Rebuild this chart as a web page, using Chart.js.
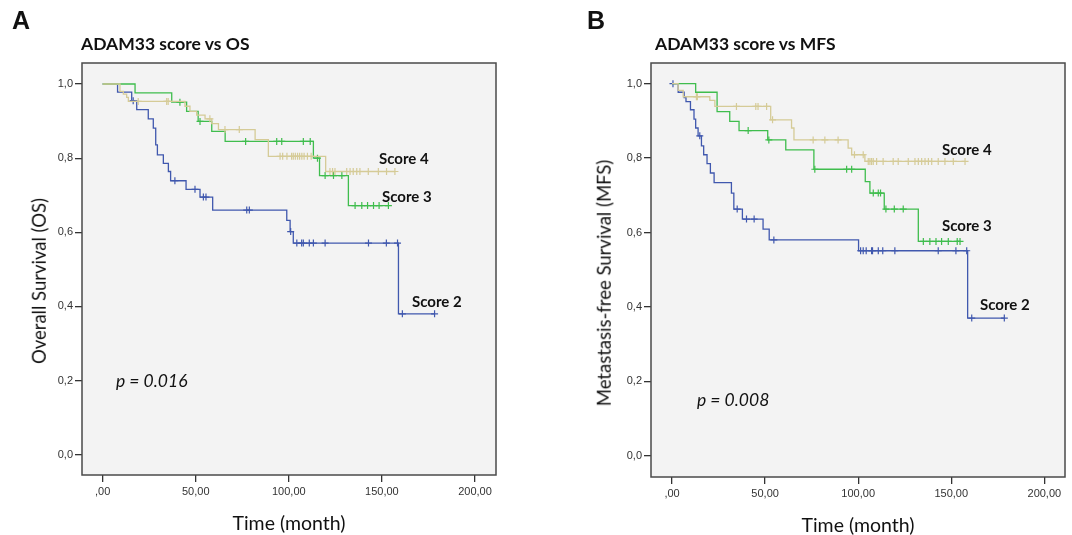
<!DOCTYPE html>
<html>
<head>
<meta charset="utf-8">
<script src="https://cdn.jsdelivr.net/npm/chart.js@4.4.1/dist/chart.umd.min.js"></script>
<style>
  body { margin: 0; background: #fff; width: 1072px; height: 535px; position: relative; overflow: hidden; }
  canvas { position: absolute; top: 0; }
  .t { position: absolute; white-space: nowrap; color: #111; line-height: 1; font-family: Lato, sans-serif; }
  .letter { font-family: "Liberation Sans", Arial, sans-serif; font-weight: bold; font-size: 25px; }
  .title { font-weight: bold; font-size: 17.5px; }
  .score { font-weight: bold; font-size: 15px; }
  .pval { font-style: italic; font-size: 17.5px; }
  .ytitle { font-size: 18.5px; transform: translate(-50%, -50%) rotate(-90deg); }
</style>
</head>
<body>
<canvas id="osChart" width="536" height="535" style="left:0"></canvas>
<canvas id="mfsChart" width="503" height="535" style="left:569px"></canvas>

<div class="t letter" style="left:12px;top:8px">A</div>
<div class="t letter" style="left:587px;top:8px">B</div>
<div class="t title" style="left:81px;top:35px">ADAM33 score vs OS</div>
<div class="t title" style="left:655px;top:35px">ADAM33 score vs MFS</div>
<div class="t ytitle" style="left:39px;top:281px">Overall Survival (OS)</div>
<div class="t ytitle" style="left:604px;top:283px">Metastasis-free Survival (MFS)</div>
<div class="t score" style="left:379px;top:151px">Score 4</div>
<div class="t score" style="left:382px;top:189px">Score 3</div>
<div class="t score" style="left:412px;top:294px">Score 2</div>
<div class="t score" style="left:942px;top:142px">Score 4</div>
<div class="t score" style="left:942px;top:218px">Score 3</div>
<div class="t score" style="left:980px;top:297px">Score 2</div>
<div class="t pval" style="left:116px;top:372px">p = 0.016</div>
<div class="t pval" style="left:697px;top:391px">p = 0.008</div>

<script>
const xTicks = [0, 50, 100, 150, 200];
const yTicks = [0, 0.2, 0.4, 0.6, 0.8, 1.0];

// A - overall survival (event times, survival after event, censored times)
const osScore2Times = [8.0, 15.6, 18.3, 24.5, 27.2, 28.5, 29.4, 32.6, 35.3, 36.5, 44.8, 52.3, 59.1, 98.9, 100.7, 102.4, 158.9];
const osScore2Surv = [0.978, 0.955, 0.931, 0.906, 0.881, 0.836, 0.809, 0.786, 0.764, 0.739, 0.716, 0.695, 0.660, 0.632, 0.602, 0.571, 0.380];
const osScore2Censor = [16.4, 38.8, 49.6, 54.1, 55.5, 77.4, 78.8, 101.0, 104.3, 106.9, 107.8, 111.0, 113.2, 119.5, 142.8, 152.4, 158.4, 161.0, 178.3];

const osScore3Times = [17.4, 37.1, 45.1, 51.3, 58.6, 65.8, 113.2, 116.5, 132.0];
const osScore3Surv = [0.976, 0.951, 0.926, 0.899, 0.872, 0.845, 0.800, 0.753, 0.672];
const osScore3Censor = [41.5, 52.3, 76.8, 93.5, 96.2, 107.8, 111.5, 115.4, 119.5, 124.0, 128.5, 135.6, 139.2, 142.3, 145.5, 148.5, 153.5];

const osScore4Times = [9.3, 11.1, 12.9, 13.8, 44.2, 46.9, 50.5, 55.0, 58.6, 62.2, 81.9, 89.0, 119.8];
const osScore4Surv = [0.980, 0.973, 0.964, 0.953, 0.940, 0.926, 0.916, 0.906, 0.893, 0.877, 0.850, 0.805, 0.764];
const osScore4Censor = [19.1, 34.4, 35.2, 57.6, 65.7, 73.4, 95.3, 96.7, 99.0, 101.5, 102.4, 103.5, 104.7, 105.8, 107.0, 108.2, 110.0, 112.0,
  122.1, 123.5, 124.8, 131.1, 132.9, 134.6, 136.5, 138.2, 142.7, 148.1, 152.5, 157.0];

// B - metastasis-free survival
const mfsScore2Times = [3.3, 6.5, 7.5, 9.9, 11.8, 12.7, 14.0, 15.8, 17.0, 18.8, 20.6, 22.6, 31.9, 33.2, 37.8, 48.9, 52.2, 100.2, 158.8];
const mfsScore2Surv = [0.977, 0.963, 0.952, 0.930, 0.905, 0.881, 0.860, 0.833, 0.809, 0.785, 0.760, 0.734, 0.706, 0.663, 0.636, 0.609, 0.580, 0.551, 0.370];
const mfsScore2Censor = [0.5, 14.9, 35.0, 40.0, 44.1, 54.7, 101.3, 102.7, 104.3, 107.2, 107.7, 110.8, 113.2, 119.7, 143.0, 152.5, 158.3, 161.0, 178.5];

const mfsScore3Times = [12.7, 24.2, 31.0, 36.0, 51.4, 61.1, 76.2, 103.8, 106.3, 114.0, 132.3];
const mfsScore3Surv = [0.977, 0.925, 0.899, 0.874, 0.849, 0.822, 0.770, 0.737, 0.706, 0.663, 0.576];
const mfsScore3Censor = [40.9, 52.0, 76.7, 93.8, 96.5, 108.1, 110.8, 112.0, 114.9, 119.4, 124.2, 135.0, 138.5, 141.8, 144.8, 148.4, 153.2, 154.7];

const mfsScore4Times = [3.3, 6.0, 20.3, 23.0, 53.0, 64.2, 65.5, 94.6, 96.5, 103.6];
const mfsScore4Surv = [0.982, 0.965, 0.955, 0.939, 0.903, 0.881, 0.849, 0.827, 0.809, 0.791];
const mfsScore4Censor = [13.1, 13.6, 34.6, 45.0, 46.2, 50.8, 54.0, 75.8, 82.1, 89.2, 98.0, 102.7, 105.4, 106.3, 107.2, 108.1, 109.9,
  113.4, 118.8, 121.5, 126.9, 130.5, 132.3, 134.1, 135.9, 137.7, 139.5, 143.0, 146.6, 151.1, 157.4];

const colScore2 = '#4058ae';
const colScore3 = '#3fbd4d';
const colScore4 = '#d5cb97';

function survivalAt(times, surv, t) {
  let s = 1;
  for (let i = 0; i < times.length; i++) if (times[i] <= t) s = surv[i];
  return s;
}

// step line + censor marks for one group
function curve(label, color, times, surv, censor) {
  const end = Math.max(times[times.length - 1], censor[censor.length - 1]);
  const pts = [{ x: 0, y: 1 }];
  times.forEach((t, i) => pts.push({ x: t, y: surv[i] }));
  pts.push({ x: end, y: survivalAt(times, surv, end) });
  return [
    { label: label, data: pts, stepped: true, borderColor: color, borderWidth: 1.3, pointRadius: 0, fill: false },
    { label: label + ' censored', data: censor.map(c => ({ x: c, y: survivalAt(times, surv, c) })), showLine: false,
      pointStyle: 'cross', pointRadius: 3.5, borderColor: color, borderWidth: 1.2 }
  ];
}

// grey plot background and frame
const boxPlugin = {
  id: 'box',
  beforeDraw(chart) {
    const a = chart.chartArea, ctx = chart.ctx;
    ctx.save();
    ctx.fillStyle = '#f3f3f3';
    ctx.fillRect(a.left, a.top, a.right - a.left, a.bottom - a.top);
    ctx.restore();
  },
  afterDraw(chart) {
    const a = chart.chartArea, ctx = chart.ctx;
    ctx.save();
    ctx.strokeStyle = '#4a4a4a';
    ctx.lineWidth = 1.5;
    ctx.strokeRect(a.left, a.top, a.right - a.left, a.bottom - a.top);
    ctx.restore();
  }
};

function makeChart(id, datasets, o) {
  const tickFont = { family: '"Liberation Sans", Arial, sans-serif', size: 11 };
  return new Chart(document.getElementById(id), {
    type: 'line',
    data: { datasets: datasets },
    options: {
      responsive: false,
      animation: false,
      layout: { padding: { left: 0, right: o.padRight, top: 63, bottom: 0 } },
      plugins: { legend: { display: false }, tooltip: { enabled: false } },
      scales: {
        x: {
          type: 'linear', min: o.xMin, max: o.xMax,
          afterBuildTicks: s => { s.ticks = xTicks.map(v => ({ value: v })); },
          afterFit: s => { s.height = o.xHeight; },
          grid: { drawOnChartArea: false, tickLength: 7, tickColor: '#333', lineWidth: 1.3 },
          border: { display: false },
          ticks: { color: '#333', font: tickFont, padding: 3, maxRotation: 0,
            callback: v => v === 0 ? ',00' : v.toFixed(2).replace('.', ',') },
          title: { display: true, text: 'Time (month)', color: '#111',
            font: { family: 'Lato, sans-serif', size: 19.5 }, padding: { top: 0, bottom: o.titlePad } }
        },
        y: {
          type: 'linear', min: o.yMin, max: o.yMax,
          afterBuildTicks: s => { s.ticks = yTicks.map(v => ({ value: v })); },
          afterFit: s => { s.width = 82; },
          grid: { drawOnChartArea: false, tickLength: 7, tickColor: '#333', lineWidth: 1.3 },
          border: { display: false },
          ticks: { color: '#333', font: tickFont, padding: 2,
            callback: v => v === 0 ? '0,0' : v.toFixed(1).replace('.', ',') }
        }
      }
    },
    plugins: [boxPlugin]
  });
}

makeChart('osChart', [
  ...curve('Score 4', colScore4, osScore4Times, osScore4Surv, osScore4Censor),
  ...curve('Score 3', colScore3, osScore3Times, osScore3Surv, osScore3Censor),
  ...curve('Score 2', colScore2, osScore2Times, osScore2Surv, osScore2Censor)
], { padRight: 40, xMin: -11.1, xMax: 211.3, yMin: -0.0548, yMax: 1.0567, xHeight: 60, titlePad: 0 });

makeChart('mfsChart', [
  ...curve('Score 4', colScore4, mfsScore4Times, mfsScore4Surv, mfsScore4Censor),
  ...curve('Score 3', colScore3, mfsScore3Times, mfsScore3Surv, mfsScore3Censor),
  ...curve('Score 2', colScore2, mfsScore2Times, mfsScore2Surv, mfsScore2Censor)
], { padRight: 7, xMin: -11.3, xMax: 211.1, yMin: -0.0573, yMax: 1.0557, xHeight: 58, titlePad: -2.5 });
</script>
</body>
</html>
